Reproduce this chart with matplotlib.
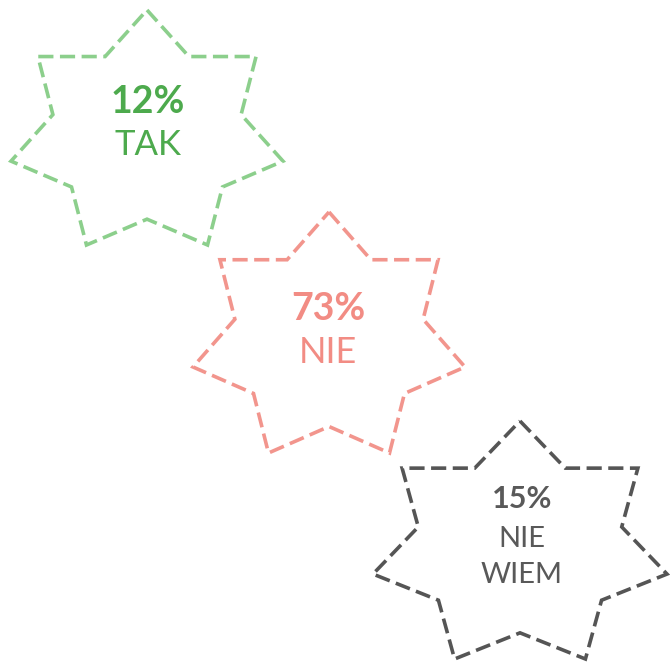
import numpy as np
import matplotlib
matplotlib.use("Agg")
import matplotlib.pyplot as plt

# ---- data ----
values = [12, 73, 15]
labels = ["TAK", "NIE", "NIE\nWIEM"]

# ---- style / layout ----
outline_colors = ["#8CCF8C", "#F2958D", "#555555"]
text_colors = ["#4DAA4D", "#F28C84", "#595959"]
# star boxes in pixel coords: (center x, top y, half width, half height)
star_boxes = [(147, 10, 136, 117.5), (329, 212, 136, 120.5), (520, 421, 147, 119)]
# text baselines (value line, then label lines) and sizes
text_x = [148, 328, 522]
value_base = [113, 320, 508]
label_base = [[155], [363], [547, 583]]
value_size = [27, 27, 22]
label_size = [25, 26, 21]

W, H = 670, 663
fig = plt.figure(figsize=(W / 100, H / 100), dpi=100)
ax = fig.add_axes([0, 0, 1, 1])
ax.set_xlim(0, W)
ax.set_ylim(H, 0)
ax.axis("off")

FONT = ["Lato", "DejaVu Sans"]


def star7(hc, top, wd2, hd2):
    hf, vf = 1.02572, 1.05210
    sw, sh = wd2 * hf, hd2 * vf
    vc = top + sh
    inner = 0.69202
    xs, ys = [], []
    for k in range(7):
        t = np.deg2rad(90 - k * 360 / 7)
        xs.append(hc + sw * np.cos(t))
        ys.append(vc - sh * np.sin(t))
        ti = t - np.deg2rad(180 / 7)
        xs.append(hc + sw * inner * np.cos(ti))
        ys.append(vc - sh * inner * np.sin(ti))
    xs.append(xs[0])
    ys.append(ys[0])
    return xs, ys


for i, v in enumerate(values):
    xs, ys = star7(*star_boxes[i])
    ax.plot(xs, ys, color=outline_colors[i], lw=2.6, dashes=(4.2, 1.8),
            solid_joinstyle="miter", dash_joinstyle="miter")
    ax.text(text_x[i], value_base[i], f"{v}%", ha="center", va="baseline",
            fontsize=value_size[i], fontweight="bold", color=text_colors[i],
            family=FONT)
    for line, yb in zip(labels[i].split("\n"), label_base[i]):
        ax.text(text_x[i], yb, line, ha="center", va="baseline",
                fontsize=label_size[i], fontweight="normal", color=text_colors[i],
                family=FONT)

fig.savefig("out.png", dpi=100)
